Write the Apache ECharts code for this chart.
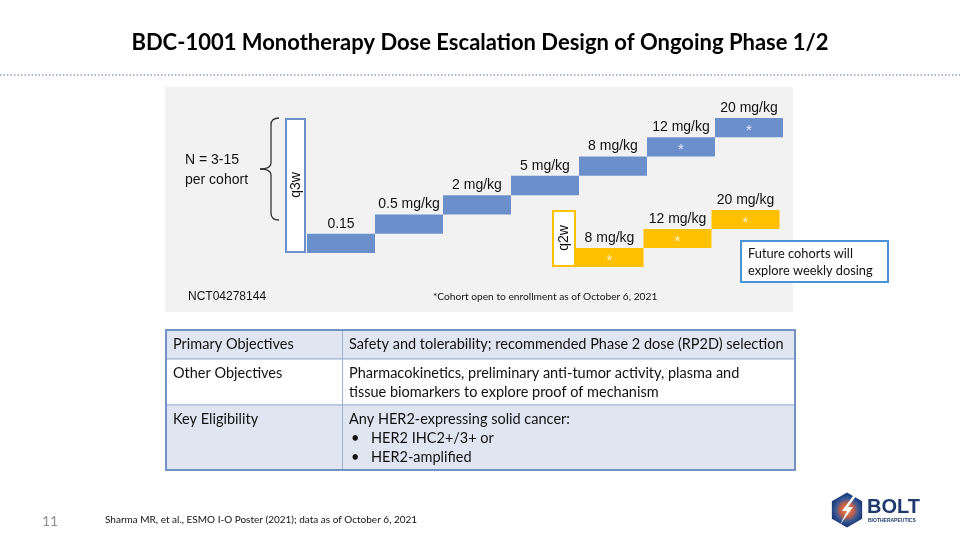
<!DOCTYPE html>
<html><head><meta charset="utf-8">
<script src="https://cdn.jsdelivr.net/npm/echarts@6/dist/echarts.min.js"></script>
<style>html,body{margin:0;padding:0;background:#fff}#c{width:960px;height:540px}</style>
</head><body><div id="c"></div>
<script>
// ---- data ----
const doses = ['0.15', '0.5', '2', '5', '8', '12', '20'];
const doseLabels = ['0.15', '0.5 mg/kg', '2 mg/kg', '5 mg/kg', '8 mg/kg', '12 mg/kg', '20 mg/kg'];
const q3wLevel = [0, 1, 2, 3, 4, 5, 6];
const q3wOpen = [0, 0, 0, 0, 0, 1, 1];
const q2wLevel = [null, null, null, null, 0, 1, 2];
const q2wOpen = [0, 0, 0, 0, 1, 1, 1];
const stepHeight = 1;

const tableRows = [
  ['Primary Objectives', ['Safety and tolerability; recommended Phase 2 dose (RP2D) selection']],
  ['Other Objectives', ['Pharmacokinetics, preliminary anti-tumor activity, plasma and', 'tissue biomarkers to explore proof of mechanism']],
  ['Key Eligibility', ['Any HER2-expressing solid cancer:', '\u2022 HER2 IHC2+/3+ or', '\u2022 HER2-amplified']]
];

const BLUE = '#6b8fcb', YEL = '#ffc000';
const AR = '"Liberation Sans", Arial, sans-serif';
const CAL = 'Lato, "Open Sans", sans-serif';
const TF = '14.5px ' + CAL;

const blank = v => (v === null ? '-' : v);
const ones = arr => arr.map(v => (v === null ? '-' : stepHeight));
const starData = (lv, open) => lv.map((v, i) => (v !== null && open[i] ? [i, v + stepHeight / 2] : null)).filter(Boolean);

// ---- graphics ----
const g = [];
g.push({type: 'text', x: 480, y: 43, style: {text: 'BDC-1001 Monotherapy Dose Escalation Design of Ongoing Phase 1/2', font: 'bold 22px ' + CAL, fill: '#000', align: 'center', verticalAlign: 'middle'}});
g.push({type: 'line', shape: {x1: 0, y1: 75, x2: 960, y2: 75}, style: {stroke: '#8aa0bd', lineWidth: 1.5, lineDash: [1.5, 2]}});
g.push({type: 'rect', shape: {x: 165, y: 87, width: 628, height: 225}, style: {fill: '#f2f2f2'}, z: -10});
// q3w box
g.push({type: 'rect', shape: {x: 286, y: 119, width: 19, height: 133}, style: {fill: '#ffffff', stroke: '#6d8fca', lineWidth: 2}});
g.push({type: 'text', x: 296, y: 185, rotation: Math.PI / 2, style: {text: 'q3w', font: '14px ' + AR, fill: '#111', align: 'center', verticalAlign: 'middle'}});
// q2w box
g.push({type: 'rect', shape: {x: 553, y: 211, width: 22, height: 55}, style: {fill: '#ffffff', stroke: YEL, lineWidth: 2}});
g.push({type: 'text', x: 564, y: 238, rotation: Math.PI / 2, style: {text: 'q2w', font: '14px ' + AR, fill: '#111', align: 'center', verticalAlign: 'middle'}});
// brace
const bs = {stroke: '#333', lineWidth: 1.3, fill: null};
g.push({type: 'bezierCurve', shape: {x1: 279, y1: 118, cpx1: 271, cpy1: 118, x2: 271, y2: 125}, style: bs});
g.push({type: 'line', shape: {x1: 271, y1: 125, x2: 271, y2: 163}, style: bs});
g.push({type: 'bezierCurve', shape: {x1: 271, y1: 163, cpx1: 271, cpy1: 169, x2: 260, y2: 169}, style: bs});
g.push({type: 'bezierCurve', shape: {x1: 260, y1: 169, cpx1: 271, cpy1: 169, x2: 271, y2: 175}, style: bs});
g.push({type: 'line', shape: {x1: 271, y1: 175, x2: 271, y2: 213}, style: bs});
g.push({type: 'bezierCurve', shape: {x1: 271, y1: 213, cpx1: 271, cpy1: 220, x2: 279, y2: 220}, style: bs});
g.push({type: 'text', x: 185, y: 160, style: {text: 'N = 3-15', font: '14px ' + AR, fill: '#111', verticalAlign: 'middle'}});
g.push({type: 'text', x: 185, y: 180, style: {text: 'per cohort', font: '14px ' + AR, fill: '#111', verticalAlign: 'middle'}});
g.push({type: 'text', x: 188, y: 297, style: {text: 'NCT04278144', font: '12px ' + AR, fill: '#111', verticalAlign: 'middle'}});
g.push({type: 'text', x: 433, y: 297, style: {text: '*Cohort open to enrollment as of October 6, 2021', font: '10.2px ' + CAL, fill: '#111', verticalAlign: 'middle'}});
// future cohorts box
g.push({type: 'rect', shape: {x: 741, y: 241, width: 147, height: 41}, style: {fill: '#fff', stroke: '#4a93d6', lineWidth: 2}});
g.push({type: 'text', x: 748, y: 254, style: {text: 'Future cohorts will', font: '12.8px ' + CAL, fill: '#111', verticalAlign: 'middle'}});
g.push({type: 'text', x: 748, y: 271, style: {text: 'explore weekly dosing', font: '12.8px ' + CAL, fill: '#111', verticalAlign: 'middle'}});

// table
const tx0 = 166, tx1 = 342.5, tx2 = 795;
const rowY = [330, 359, 405, 470];
const rowFill = ['#dfe5f1', '#ffffff', '#dfe5f1'];
tableRows.forEach((r, i) => {
  g.push({type: 'rect', shape: {x: tx0, y: rowY[i], width: tx2 - tx0, height: rowY[i + 1] - rowY[i]}, style: {fill: rowFill[i], stroke: '#9fb2d6', lineWidth: 1}});
  g.push({type: 'text', x: 173, y: rowY[i] + 14.5, style: {text: r[0], font: TF, fill: '#111', verticalAlign: 'middle'}});
  r[1].forEach((t, j) => {
    const yy = rowY[i] + 14.5 + j * 19;
    if (t.startsWith('\u2022')) {
      g.push({type: 'text', x: 351, y: yy, style: {text: '\u2022', font: TF, fill: '#111', verticalAlign: 'middle'}});
      g.push({type: 'text', x: 371, y: yy, style: {text: t.slice(2), font: TF, fill: '#111', verticalAlign: 'middle'}});
    } else {
      g.push({type: 'text', x: 349, y: yy, style: {text: t, font: TF, fill: '#111', verticalAlign: 'middle'}});
    }
  });
});
g.push({type: 'line', shape: {x1: tx1, y1: 330, x2: tx1, y2: 470}, style: {stroke: '#9fb2d6', lineWidth: 1}});
g.push({type: 'rect', shape: {x: tx0, y: 330, width: tx2 - tx0, height: 140}, style: {fill: null, stroke: '#7391c4', lineWidth: 2}});

// footer
g.push({type: 'text', x: 42, y: 521, style: {text: '11', font: '14px ' + CAL, fill: '#8c8c8c', verticalAlign: 'middle'}});
g.push({type: 'text', x: 105, y: 520, style: {text: 'Sharma MR, et al., ESMO I-O Poster (2021); data as of October 6, 2021', font: '10px ' + CAL, fill: '#111', verticalAlign: 'middle'}});
// logo
const hx = 847, hy = 510, hr = 17.5, hex = [];
for (let k = 0; k < 6; k++) { const a = Math.PI / 2 + k * Math.PI / 3; hex.push([hx + hr * Math.cos(a), hy - hr * Math.sin(a)]); }
g.push({type: 'polygon', shape: {points: hex}, style: {fill: {type: 'radial', x: 0.5, y: 0.5, r: 0.5, colorStops: [{offset: 0, color: '#f08a4b'}, {offset: 0.45, color: '#c0604a'}, {offset: 0.75, color: '#3a5a95'}, {offset: 1, color: '#1f3d7a'}]}}});
g.push({type: 'polygon', shape: {points: [[853, 496], [842, 511], [847, 511], [840, 525], [853, 507], [848, 507], [856, 496]]}, style: {fill: '#ffffff'}});
g.push({type: 'text', x: 867, y: 507, style: {text: 'BOLT', font: 'bold 20px ' + AR, fill: '#1f3a6e', verticalAlign: 'middle'}});
g.push({type: 'text', x: 868, y: 521, style: {text: 'BIOTHERAPEUTICS', font: 'bold 5px ' + AR, fill: '#1f3a6e', verticalAlign: 'middle'}});

const chart = echarts.init(document.getElementById('c'), null, {renderer: 'canvas'});
const labelStyle = {fontFamily: AR, fontSize: 14, color: '#111'};
chart.setOption({
  animation: false,
  graphic: g,
  grid: [
    {left: 307, top: 118, width: 476, height: 135},
    {left: 303.5, top: 210, width: 476, height: 57}
  ],
  xAxis: [
    {type: 'category', gridIndex: 0, data: doses, show: false},
    {type: 'category', gridIndex: 1, data: doses, show: false}
  ],
  yAxis: [
    {type: 'value', gridIndex: 0, min: 0, max: 7, show: false},
    {type: 'value', gridIndex: 1, min: 0, max: 3, show: false}
  ],
  series: [
    {type: 'bar', xAxisIndex: 0, yAxisIndex: 0, stack: 'q3w', data: q3wLevel.map(blank), itemStyle: {color: 'transparent'}, barCategoryGap: 0, silent: true},
    {type: 'bar', xAxisIndex: 0, yAxisIndex: 0, stack: 'q3w', data: ones(q3wLevel), itemStyle: {color: BLUE}, barCategoryGap: 0,
     label: {show: true, position: 'top', distance: 3, formatter: p => doseLabels[p.dataIndex], ...labelStyle}},
    {type: 'bar', xAxisIndex: 1, yAxisIndex: 1, stack: 'q2w', data: q2wLevel.map(blank), itemStyle: {color: 'transparent'}, barCategoryGap: 0, silent: true},
    {type: 'bar', xAxisIndex: 1, yAxisIndex: 1, stack: 'q2w', data: ones(q2wLevel), itemStyle: {color: YEL}, barCategoryGap: 0,
     label: {show: true, position: 'top', distance: 3, formatter: p => doseLabels[p.dataIndex], ...labelStyle}},
    {type: 'scatter', xAxisIndex: 0, yAxisIndex: 0, data: starData(q3wLevel, q3wOpen), symbolSize: 0, z: 5,
     label: {show: true, position: 'inside', formatter: '*', color: '#fff', fontSize: 15, fontFamily: AR, offset: [0, 3]}},
    {type: 'scatter', xAxisIndex: 1, yAxisIndex: 1, data: starData(q2wLevel, q2wOpen), symbolSize: 0, z: 5,
     label: {show: true, position: 'inside', formatter: '*', color: '#fff', fontSize: 15, fontFamily: AR, offset: [0, 3]}}
  ]
});
</script></body></html>
